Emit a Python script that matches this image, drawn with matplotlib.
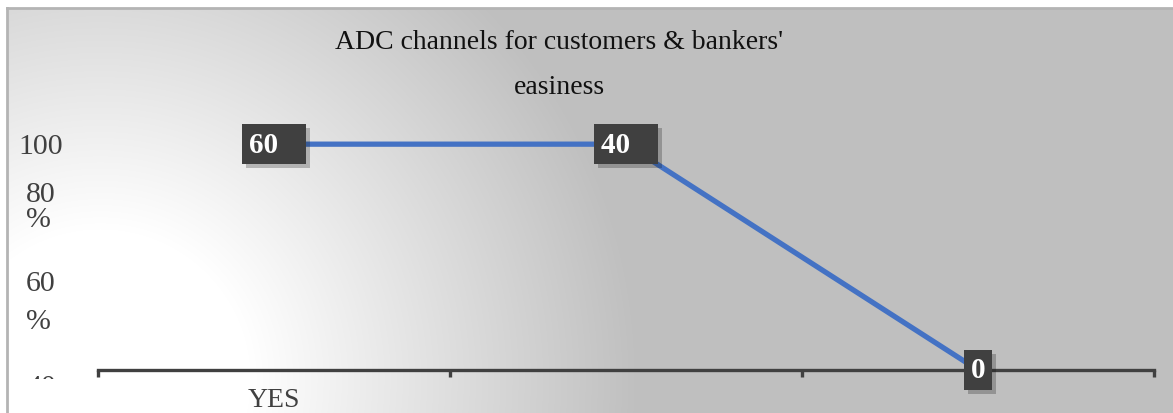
import numpy as np
import matplotlib.pyplot as plt
from matplotlib.patches import Rectangle
import matplotlib.patheffects as pe

# data
categories = ["YES", "", ""]
plot_values = [100, 100, 40]       # where the line sits on the (odd) axis
label_values = [60, 40, 0]         # the data labels shown in the boxes
ytick_vals = [100, 80, 60, 40]
ytick_text = ["100", "80\n%", "60\n%", "40"]
title = "ADC channels for customers & bankers'\neasiness"

W, H = 1173, 414
plt.rcParams['font.family'] = ['Liberation Serif', 'DejaVu Serif']

fig = plt.figure(figsize=(W / 100, H / 100), dpi=100)
fig.patch.set_facecolor('white')

# background gradient (white blob bottom-left -> gray)
bg = fig.add_axes([7 / W, 0, 1 - 7 / W, (H - 9) / H], zorder=-10)
yy, xx = np.mgrid[9:H, 7:W]
r = np.sqrt((xx - 100) ** 2 + (yy - 380) ** 2)
t = np.clip((r - 150) / 390, 0, 1)
g = 255 - t * (255 - 191)
bg.imshow(np.dstack([g, g, g]) / 255, aspect='auto', extent=[0, 1, 0, 1])
bg.set_xticks([])
bg.set_yticks([])
for s in ['right', 'bottom']:
    bg.spines[s].set_visible(False)
for s in ['left', 'top']:
    bg.spines[s].set_color('#b4b4b4')
    bg.spines[s].set_linewidth(2)

# main axes
ax = fig.add_axes([98 / W, 43 / H, (1154 - 98) / W, 271 / H])
ax.patch.set_alpha(0)
x = np.arange(len(categories))
ax.plot(x, plot_values, color='#4472C4', lw=3.8, solid_capstyle='butt', zorder=3)
ax.set_xlim(-0.5, 2.5)
ax.set_ylim(40, 112)

for s in ['left', 'right', 'top']:
    ax.spines[s].set_visible(False)
ax.spines['bottom'].set_color('#404040')
ax.spines['bottom'].set_linewidth(2.4)
ax.spines['bottom'].set_zorder(2)

ax.set_xticks(x)
ax.set_xticklabels(categories, fontsize=20, color='#404040')
ax.tick_params(axis='x', which='major', length=0, pad=12)
ax.set_xticks([-0.5, 0.5, 1.5, 2.5], minor=True)
ax.tick_params(axis='x', which='minor', length=5, width=2.4, color='#404040', direction='out')
ax.set_yticks([])

# y labels placed by hand (wrapped like the original)
offsets = [-2, 13, -7, -17]
spacings = [1.0, 0.95, 1.6, 1.0]
for v, lab, off, ls in zip(ytick_vals, ytick_text, offsets, spacings):
    tx = ax.annotate(lab, xy=(0, v), xycoords=('figure pixels', 'data'),
                     xytext=(41, off), textcoords='offset pixels',
                     ha='center', va='center', multialignment='left',
                     fontsize=21.5, color='#404040', linespacing=ls,
                     annotation_clip=False)
    if lab == "40":
        tx.set_clip_path(Rectangle((0, 34 / H), 1, 1, transform=fig.transFigure))

# data labels (Excel pads two-digit boxes on the right)
for xi, yv, lv in zip(x, plot_values, label_values):
    s = str(lv)
    txt = s + "\u00a0\u00a0\u00a0" if len(s) > 1 else s
    t_ = ax.annotate(txt, xy=(xi, yv), ha='center', va='center',
                     fontsize=21, fontweight='bold', color='white', zorder=5,
                     bbox=dict(boxstyle='square,pad=0.22', fc='#404040', ec='none'),
                     annotation_clip=False)
    t_.get_bbox_patch().set_path_effects(
        [pe.SimplePatchShadow(offset=(3, -3), alpha=0.25), pe.Normal()])

fig.text(559 / W, 1 - 65 / H, title, ha='center', va='center', fontsize=20,
         color='#111111', linespacing=2.05)

fig.savefig('out.png', dpi=100)
